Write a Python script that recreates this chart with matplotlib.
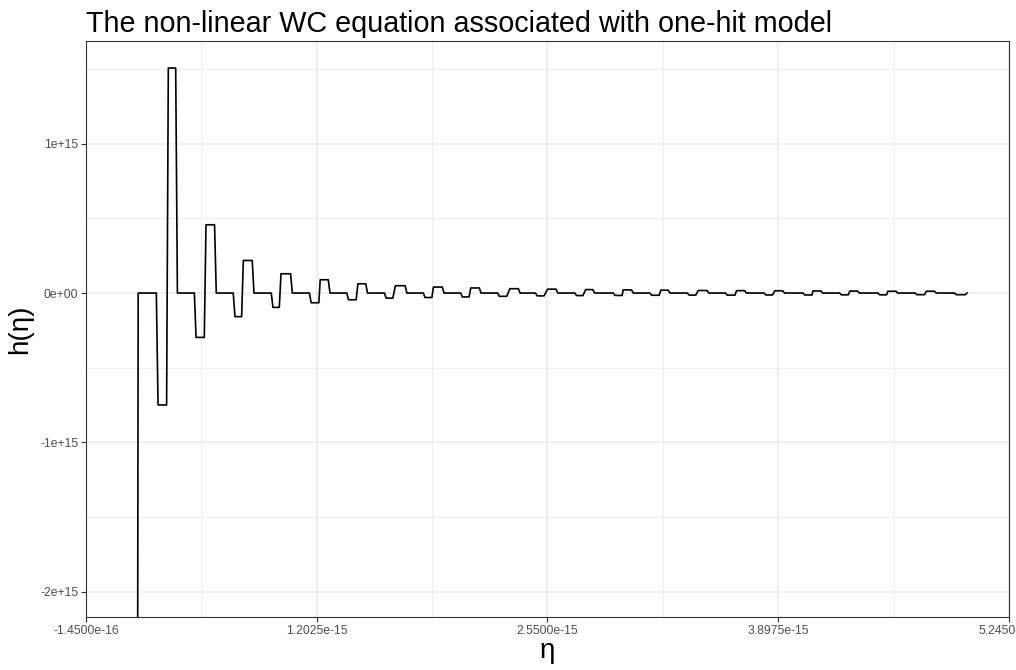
import numpy as np
import matplotlib
matplotlib.use("Agg")
import matplotlib.pyplot as plt
from matplotlib.ticker import FixedLocator, AutoMinorLocator, FuncFormatter

plt.rcParams['font.family'] = ['Liberation Sans', 'DejaVu Sans']

# eta in units of 1e-16, h in units of 1e15
step = 0.1
start_eta = [1.5, 1.6]
start_h = [-7.7, 0.0]

dip_lo = [2.76, 4.98, 7.25, 9.47, 11.70, 13.88, 16.08, 18.35, 20.53, 22.69, 24.90,
          27.20, 29.44, 31.58, 33.77, 35.99, 38.25, 40.52, 42.66, 44.90, 47.07, 49.37]
dip_hi = [3.26, 5.46, 7.64, 9.84, 12.15, 14.33, 16.47, 18.75, 20.92, 23.12, 25.30,
          27.57, 29.86, 32.02, 34.16, 36.45, 38.64, 40.95, 43.07, 45.30, 47.52, 49.90]
dip_h = [-0.749, -0.297, -0.158, -0.096, -0.065, -0.045, -0.034, -0.030, -0.026, -0.022, -0.019,
         -0.017, -0.016, -0.015, -0.014, -0.014, -0.013, -0.013, -0.012, -0.012, -0.011, -0.011]

spk_lo = [3.36, 5.56, 7.74, 9.94, 12.23, 14.43, 16.62, 18.84, 21.02, 23.31, 25.51,
          27.73, 29.92, 32.12, 34.30, 36.54, 38.77, 41.00, 43.15, 45.38, 47.62]
spk_hi = [3.79, 6.06, 8.26, 10.50, 12.70, 14.89, 17.19, 19.36, 21.52, 23.80, 26.00,
          28.15, 30.41, 32.55, 34.82, 37.02, 39.24, 41.47, 43.61, 45.85, 48.10]
spk_h = [1.506, 0.457, 0.218, 0.129, 0.089, 0.062, 0.049, 0.040, 0.034, 0.029, 0.026,
         0.023, 0.021, 0.019, 0.017, 0.016, 0.015, 0.014, 0.013, 0.012, 0.012]

end_eta = [50.0]
end_h = [0.0]

x_breaks = [-1.45e-16, 1.2025e-15, 2.55e-15, 3.8975e-15, 5.245e-15]
y_breaks = [-2e15, -1e15, 0, 1e15]

# build the polyline
eta = list(start_eta)
h = list(start_h)
for k in range(len(dip_lo)):
    eta += [dip_lo[k] - step, dip_lo[k], dip_hi[k]]
    h += [0.0, dip_h[k], dip_h[k]]
    if k < len(spk_lo):
        eta += [spk_lo[k], spk_hi[k], spk_hi[k] + step]
        h += [spk_h[k], spk_h[k], 0.0]
eta += end_eta
h += end_h
eta = np.array(eta) * 1e-16
h = np.array(h) * 1e15

fig = plt.figure(figsize=(10.16, 6.70), dpi=100)
ax = fig.add_axes([0.0846, 0.0787, 0.9085, 0.8597])

ax.plot(eta, h, color='black', lw=1.2, zorder=3)

ax.set_xlim(x_breaks[0], x_breaks[-1])
ax.set_ylim(-2.17e15, 1.685e15)

ax.xaxis.set_major_locator(FixedLocator(x_breaks))
ax.yaxis.set_major_locator(FixedLocator(y_breaks))
ax.xaxis.set_minor_locator(AutoMinorLocator(2))
ax.yaxis.set_minor_locator(AutoMinorLocator(2))
ax.xaxis.set_major_formatter(FuncFormatter(lambda v, p: f"{v:.4e}"))
ax.yaxis.set_major_formatter(FuncFormatter(lambda v, p: f"{v:.0e}"))

ax.grid(True, which='major', color='#EBEBEB', lw=1.1, zorder=0)
ax.grid(True, which='minor', color='#EBEBEB', lw=0.6, zorder=0)
ax.set_axisbelow(True)

for s in ax.spines.values():
    s.set_color('#333333')
    s.set_linewidth(0.8)

ax.tick_params(which='major', length=3.5, width=0.8, color='#333333',
               labelsize=8.8, labelcolor='#4D4D4D', pad=2)
ax.tick_params(which='minor', length=0)

ax.set_title("The non-linear WC equation associated with one-hit model",
             loc='left', fontsize=20.7, pad=7)
ax.set_xlabel("\u03b7", fontsize=20, labelpad=1)
ax.set_ylabel("h(\u03b7)", fontsize=20, labelpad=5)

fig.savefig("out.png", dpi=100)
